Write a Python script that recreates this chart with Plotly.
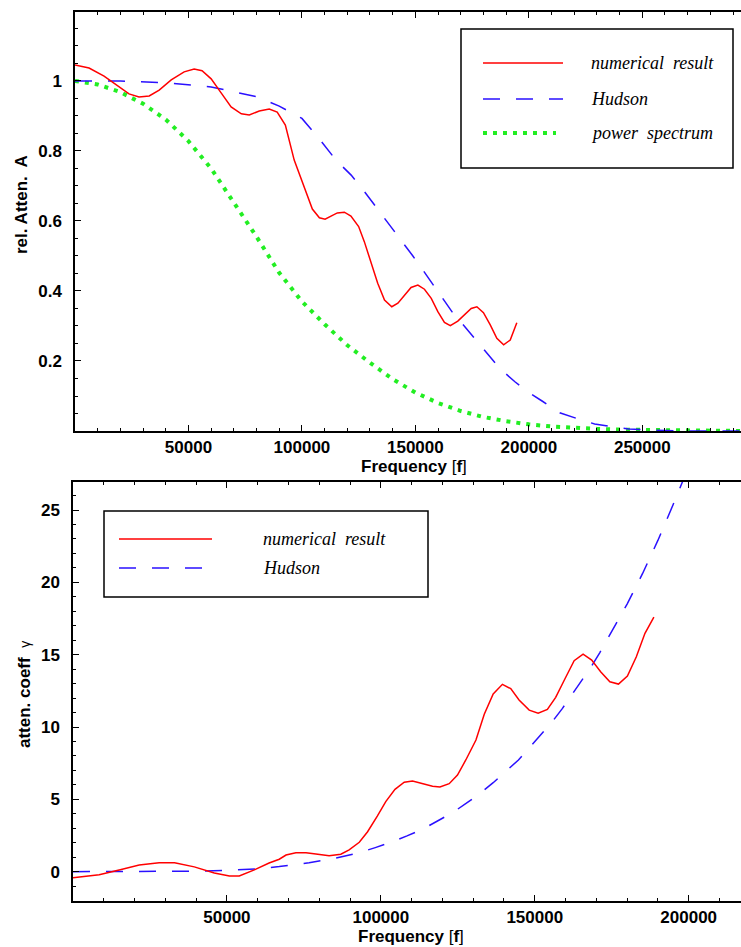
import plotly.graph_objects as go

# ---------------- data ----------------
# top panel: relative attenuation A vs frequency
top_freq_num = [0, 6200, 12800, 19400, 23800, 28200, 32700, 37100, 42400, 48100,
                52500, 56000, 60000, 64400, 68800, 73300, 76800, 81200, 85600, 89100,
                92700, 96600, 101800, 104600, 107700, 110200, 115600, 118700, 121600, 125000,
                127500, 130500, 133400, 136400, 139600, 142300, 145200, 148100, 151100, 154000,
                157000, 159900, 162800, 165400, 168700, 171700, 174600, 177100, 180000, 183000,
                185900, 188900, 191800, 194700]
top_A_num = [1.046, 1.037, 1.014, 0.983, 0.963, 0.954, 0.957, 0.974, 1.003, 1.026,
             1.034, 1.029, 1.006, 0.966, 0.926, 0.906, 0.903, 0.914, 0.92, 0.911,
             0.874, 0.774, 0.68, 0.634, 0.609, 0.605, 0.623, 0.625, 0.614, 0.584,
             0.541, 0.479, 0.422, 0.374, 0.355, 0.365, 0.389, 0.41, 0.417, 0.405,
             0.379, 0.341, 0.31, 0.301, 0.314, 0.333, 0.35, 0.355, 0.338, 0.303,
             0.265, 0.246, 0.26, 0.309]

top_freq_hud = [0, 20000, 40000, 60000, 80000, 90000, 100000, 107000, 115000, 121700,
                126500, 130900, 135600, 140000, 144400, 148900, 153300, 157400, 161800, 166100,
                170900, 175800, 180400, 187000, 194000, 200000, 206000, 213600, 222000, 229000,
                236000, 244000, 255000, 270000, 293500]
top_A_hud = [1.0, 1.0, 0.995, 0.983, 0.955, 0.928, 0.893, 0.84, 0.774, 0.731,
             0.693, 0.655, 0.617, 0.579, 0.541, 0.5, 0.46, 0.422, 0.384, 0.341,
             0.305, 0.267, 0.229, 0.18, 0.14, 0.11, 0.085, 0.052, 0.034, 0.02,
             0.013, 0.006, 0.002, 0.0, 0.0]

top_freq_pow = [0, 10000, 20000, 30000, 40000, 50000, 60000, 70000, 80000, 90000,
                100000, 110000, 120000, 130000, 140000, 150000, 160000, 170000, 180000, 190000,
                200000, 210000, 220000, 230000, 240000, 250000, 270000, 293500]
top_A_pow = [1.0, 0.99, 0.968, 0.935, 0.89, 0.828, 0.75, 0.655, 0.555, 0.452,
             0.37, 0.305, 0.245, 0.195, 0.148, 0.11, 0.08, 0.057, 0.04, 0.028,
             0.019, 0.013, 0.009, 0.006, 0.004, 0.003, 0.001, 0.0]

# bottom panel: attenuation coefficient gamma vs frequency
bot_freq_num = [0, 8500, 15000, 21500, 28000, 33000, 39400, 45900, 50800, 54000,
                58900, 63700, 67000, 69200, 72400, 75700, 78900, 83200, 87000, 89700,
                93000, 95700, 98900, 101600, 104600, 107600, 110300, 113500, 116800, 119200,
                122200, 124900, 127600, 130900, 133600, 136500, 139500, 142200, 144900, 148200,
                151100, 154100, 156800, 159900, 162800, 165700, 168500, 171400, 174400, 177200,
                180100, 183000, 185800, 188700]
bot_g_num = [-0.43, -0.22, 0.12, 0.46, 0.62, 0.62, 0.33, -0.09, -0.3, -0.3,
             0.12, 0.6, 0.86, 1.15, 1.31, 1.31, 1.22, 1.1, 1.2, 1.5,
             2.03, 2.76, 3.85, 4.84, 5.69, 6.18, 6.27, 6.08, 5.9, 5.85,
             6.08, 6.68, 7.72, 9.1, 10.88, 12.28, 12.95, 12.65, 11.87, 11.17,
             10.95, 11.22, 12.05, 13.37, 14.58, 15.04, 14.63, 13.82, 13.13, 12.97,
             13.52, 14.86, 16.48, 17.6]

bot_freq_hud = [0, 20000, 40000, 50000, 60000, 67000, 71300, 76700, 84300, 87500,
                93000, 98200, 103600, 108500, 113500, 118400, 123300, 127800, 132300, 136500,
                140600, 144700, 148400, 152000, 155700, 159000, 162200, 165300, 168500, 171100,
                174100, 177200, 180000, 185000, 190000, 195000, 200000]
bot_g_hud = [0.0, 0.0, 0.03, 0.08, 0.2, 0.35, 0.46, 0.62, 0.88, 1.04,
             1.31, 1.66, 2.05, 2.47, 2.93, 3.5, 4.08, 4.73, 5.42, 6.15,
             6.91, 7.72, 8.6, 9.45, 10.37, 11.29, 12.28, 13.2, 14.22, 15.13,
             16.29, 17.39, 18.5, 20.6, 22.9, 25.4, 28.0]

top_xticks = [50000, 100000, 150000, 200000, 250000]
top_yticks = [0.2, 0.4, 0.6, 0.8, 1.0]
top_yticklabels = ["0.2", "0.4", "0.6", "0.8", "1"]
bot_xticks = [50000, 100000, 150000, 200000]
bot_yticks = [0, 5, 10, 15, 20, 25]

legend_top = ["numerical\u00a0 result", "Hudson", "power\u00a0 spectrum"]
legend_bot = ["numerical\u00a0 result", "Hudson"]

# ---------------- styles ----------------
W, H = 741, 947
RED = "#ff0000"
BLUE = "#2a10ff"
GREEN = "#22ee22"
DASH = "17px,16px"
DOT = "4px,6px"
TICKFONT = dict(family="Liberation Sans", size=17, color="black", weight="bold")
LEGFONT = dict(family="Liberation Serif", size=18, color="black", style="italic")


def fx(p):
    return p / W


def fy(p):
    return 1 - p / H


fig = go.Figure()
fig.add_trace(go.Scatter(x=top_freq_pow, y=top_A_pow, mode="lines",
                         line=dict(color=GREEN, width=4, dash=DOT), xaxis="x", yaxis="y"))
fig.add_trace(go.Scatter(x=top_freq_hud, y=top_A_hud, mode="lines",
                         line=dict(color=BLUE, width=1.5, dash=DASH), xaxis="x", yaxis="y"))
fig.add_trace(go.Scatter(x=top_freq_num, y=top_A_num, mode="lines",
                         line=dict(color=RED, width=1.5), xaxis="x", yaxis="y"))
fig.add_trace(go.Scatter(x=bot_freq_hud, y=bot_g_hud, mode="lines",
                         line=dict(color=BLUE, width=1.5, dash=DASH), xaxis="x2", yaxis="y2"))
fig.add_trace(go.Scatter(x=bot_freq_num, y=bot_g_num, mode="lines",
                         line=dict(color=RED, width=1.5), xaxis="x2", yaxis="y2"))

common_x = dict(showline=True, linecolor="black", linewidth=1.5, mirror="ticks",
                ticks="inside", ticklen=6, tickwidth=1.2, tickcolor="black",
                showgrid=False, zeroline=False, tickfont=TICKFONT, ticklabelstandoff=0,
                tickmode="array",
                minor=dict(ticks="inside", ticklen=3, tickwidth=1, tickcolor="black",
                           tick0=0, dtick=10000, showgrid=False))
common_y = dict(showline=True, linecolor="black", linewidth=1.5, mirror=False,
                ticks="inside", ticklen=6, tickwidth=1.2, tickcolor="black",
                showgrid=False, zeroline=False, tickfont=TICKFONT, ticklabelstandoff=8,
                tickmode="array")

fig.update_layout(
    width=W, height=H, template="none", showlegend=False,
    margin=dict(l=0, r=0, t=0, b=0),
    paper_bgcolor="white", plot_bgcolor="white",
    xaxis=dict(common_x, domain=[fx(75), 1], range=[0, 293500], anchor="y",
               tickvals=top_xticks, ticktext=[str(v) for v in top_xticks]),
    yaxis=dict(common_y, domain=[fy(431), fy(12)], range=[0, 1.197], anchor="x",
               tickvals=top_yticks, ticktext=top_yticklabels,
               minor=dict(ticks="inside", ticklen=3, tickwidth=1, tickcolor="black",
                          tick0=0, dtick=0.05, showgrid=False)),
    xaxis2=dict(common_x, domain=[fx(73), 1], range=[0, 217000], anchor="y2",
                tickvals=bot_xticks, ticktext=[str(v) for v in bot_xticks]),
    yaxis2=dict(common_y, domain=[fy(901), fy(482)], range=[-2.03, 26.94], anchor="x2",
                tickvals=bot_yticks, ticktext=[str(v) for v in bot_yticks],
                minor=dict(ticks="inside", ticklen=3, tickwidth=1, tickcolor="black",
                           tick0=0, dtick=1, showgrid=False)),
)

shapes = []
annotations = []

# axis titles
titlefont = dict(family="Liberation Sans", size=17, color="black")
annotations.append(dict(text="<b>Frequency</b> [<b>f</b>]", x=fx(414), y=fy(467), xref="paper",
                        yref="paper", showarrow=False, xanchor="center", yanchor="middle",
                        font=titlefont))
annotations.append(dict(text="<b>Frequency</b> [<b>f</b>]", x=fx(411), y=fy(936), xref="paper",
                        yref="paper", showarrow=False, xanchor="center", yanchor="middle",
                        font=titlefont))
annotations.append(dict(text="<b>rel. Atten.\u00a0 A</b>", x=fx(22), y=fy(205), xref="paper",
                        yref="paper", showarrow=False, xanchor="center", yanchor="middle",
                        textangle=-90, font=titlefont))
annotations.append(dict(text="<b>atten. coeff</b>\u00a0 <span style='font-size:14px'>γ</span>",
                        x=fx(24), y=fy(695), xref="paper", yref="paper", showarrow=False,
                        xanchor="center", yanchor="middle", textangle=-90, font=titlefont))

# top legend box
shapes.append(dict(type="rect", xref="paper", yref="paper", x0=fx(461), x1=fx(733),
                   y0=fy(168), y1=fy(29), line=dict(color="black", width=1.5),
                   fillcolor="white", layer="above"))
top_styles = [dict(color=RED, width=1.5), dict(color=BLUE, width=1.5, dash=DASH),
              dict(color=GREEN, width=4, dash=DOT)]
top_ys = [63, 99, 133]
top_ends = [563, 563, 556]
for lab, st, yy, xe in zip(legend_top, top_styles, top_ys, top_ends):
    shapes.append(dict(type="line", xref="paper", yref="paper", x0=fx(483), x1=fx(xe),
                       y0=fy(yy), y1=fy(yy), line=st, layer="above"))
    annotations.append(dict(text=lab, x=fx(589), y=fy(yy), xref="paper", yref="paper",
                            showarrow=False, xanchor="left", yanchor="middle", font=LEGFONT))

# bottom legend box
shapes.append(dict(type="rect", xref="paper", yref="paper", x0=fx(104), x1=fx(428),
                   y0=fy(597), y1=fy(511), line=dict(color="black", width=1.5),
                   fillcolor="white", layer="above"))
bot_styles = [dict(color=RED, width=1.5), dict(color=BLUE, width=1.5, dash=DASH)]
bot_ys = [539, 568]
bot_ends = [212, 205]
for lab, st, yy, xe in zip(legend_bot, bot_styles, bot_ys, bot_ends):
    shapes.append(dict(type="line", xref="paper", yref="paper", x0=fx(119), x1=fx(xe),
                       y0=fy(yy), y1=fy(yy), line=st, layer="above"))
    annotations.append(dict(text=lab, x=fx(261), y=fy(yy), xref="paper", yref="paper",
                            showarrow=False, xanchor="left", yanchor="middle", font=LEGFONT))

fig.update_layout(shapes=shapes, annotations=annotations)
fig.write_html("out.html", config={"displayModeBar": False},
               post_script="document.body.style.margin='0';document.body.style.overflow='hidden';")
